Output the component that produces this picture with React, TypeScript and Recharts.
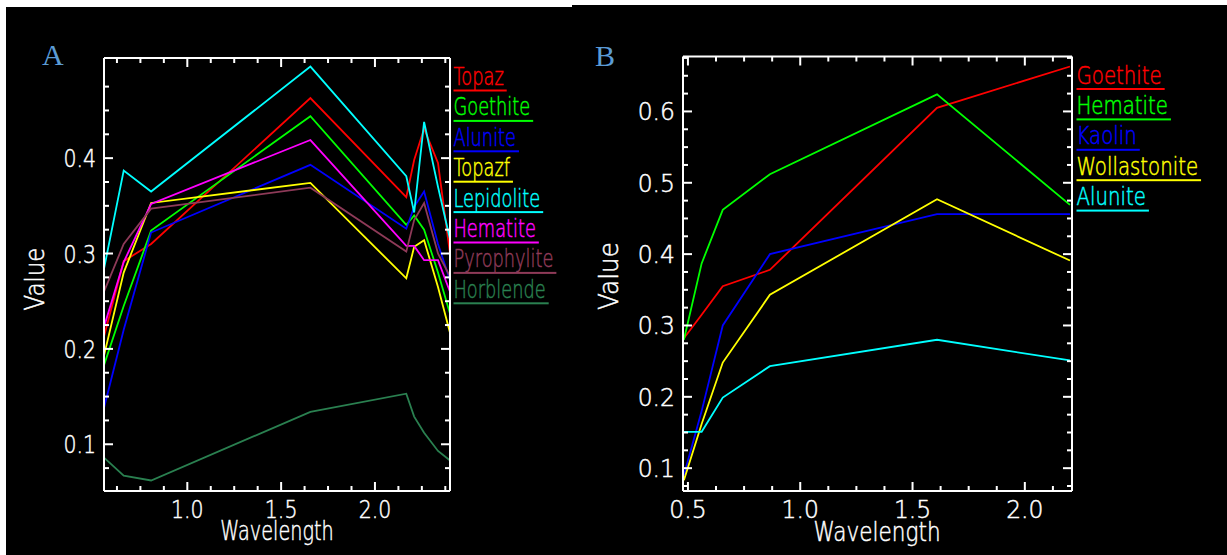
import React from "react";
import { Line, LineChart, XAxis, YAxis } from "recharts";

// Panel A: ASTER band centres (µm)
const wavelengthA = [0.556, 0.661, 0.807, 1.656, 2.167, 2.209, 2.262, 2.336, 2.4];
const topaz = [0.213, 0.292, 0.31, 0.463, 0.359, 0.398, 0.431, 0.395, 0.3];
const goethiteA = [0.183, 0.245, 0.324, 0.444, 0.33, 0.34, 0.325, 0.28, 0.237];
const aluniteA = [0.138, 0.22, 0.322, 0.393, 0.326, 0.349, 0.365, 0.31, 0.272];
const topazf = [0.193, 0.28, 0.353, 0.374, 0.274, 0.307, 0.314, 0.265, 0.217];
const lepidolite = [0.284, 0.387, 0.365, 0.496, 0.381, 0.343, 0.438, 0.37, 0.315];
const hematiteA = [0.223, 0.291, 0.352, 0.419, 0.308, 0.308, 0.293, 0.293, 0.26];
const pyrophylite = [0.26, 0.31, 0.347, 0.369, 0.302, 0.335, 0.353, 0.3, 0.276];
const horblende = [0.086, 0.067, 0.062, 0.134, 0.153, 0.129, 0.112, 0.093, 0.083];

// Panel B: OLI band centres (µm)
const wavelengthB = [0.482, 0.561, 0.655, 0.865, 1.609, 2.201];
const goethiteB = [0.282, 0.315, 0.355, 0.378, 0.605, 0.663];
const hematiteB = [0.28, 0.387, 0.462, 0.512, 0.624, 0.469];
const kaolin = [0.09, 0.18, 0.3, 0.4, 0.456, 0.456];
const wollastonite = [0.083, 0.162, 0.248, 0.343, 0.477, 0.391];
const aluniteB = [0.151, 0.151, 0.199, 0.243, 0.28, 0.251];

// tick positions (major ones get labels)
const xTicksA = [0.625, 0.75, 0.875, 1.0, 1.125, 1.25, 1.375, 1.5, 1.625, 1.75, 1.875, 2.0, 2.125, 2.25, 2.375];
const yTicksA = [
  0.075, 0.1, 0.125, 0.15, 0.175, 0.2, 0.225, 0.25, 0.275, 0.3, 0.325, 0.35, 0.375, 0.4, 0.425, 0.45, 0.475,
];
const xTicksB = [0.5, 0.625, 0.75, 0.875, 1.0, 1.125, 1.25, 1.375, 1.5, 1.625, 1.75, 1.875, 2.0, 2.125];
const yTicksB = [
  0.075, 0.1, 0.125, 0.15, 0.175, 0.2, 0.225, 0.25, 0.275, 0.3, 0.325, 0.35, 0.375, 0.4, 0.425, 0.45, 0.475, 0.5,
  0.525, 0.55, 0.575, 0.6, 0.625, 0.65, 0.675,
];

const seriesA = [
  { key: "Topaz", values: topaz, color: "#ff0000" },
  { key: "Goethite", values: goethiteA, color: "#00ff00" },
  { key: "Alunite", values: aluniteA, color: "#0000ff" },
  { key: "Topazf", values: topazf, color: "#ffff00" },
  { key: "Lepidolite", values: lepidolite, color: "#00ffff" },
  { key: "Hematite", values: hematiteA, color: "#ff00ff" },
  { key: "Pyrophylite", values: pyrophylite, color: "#8e3a58" },
  { key: "Horblende", values: horblende, color: "#2a8050" },
];

const seriesB = [
  { key: "Goethite", values: goethiteB, color: "#ff0000" },
  { key: "Hematite", values: hematiteB, color: "#00ff00" },
  { key: "Kaolin", values: kaolin, color: "#0000ff" },
  { key: "Wollastonite", values: wollastonite, color: "#ffff00" },
  { key: "Alunite", values: aluniteB, color: "#00ffff" },
];

const xDomainA = [0.556, 2.4];
const yDomainA = [0.051, 0.505];
const xDomainB = [0.478, 2.21];
const yDomainB = [0.068, 0.677];

const FONT = '"DejaVu Sans", sans-serif';
const FS = 24.7;
const WEIGHT = 300;

const ctx = typeof document !== "undefined" ? document.createElement("canvas").getContext("2d") : null;
function textWidth(s: string) {
  if (!ctx) return s.length * FS * 0.6;
  ctx.font = `${WEIGHT} ${FS}px "DejaVu Sans"`;
  return ctx.measureText(s).width;
}

function HText({ x, y, sx, anchor = "start", rotate = 0, color = "#fff", size = FS, children }: any) {
  return (
    <text
      transform={`translate(${x},${y}) rotate(${rotate}) scale(${sx},1)`}
      fontFamily={FONT}
      fontSize={size}
      fontWeight={WEIGHT}
      fill={color}
      stroke={color}
      strokeWidth={0.5}
      textAnchor={anchor}
    >
      {children}
    </text>
  );
}

const isMult = (v: number, m: number) => Math.abs(v / m - Math.round(v / m)) < 1e-6;

function makeTick(side: "bottom" | "top" | "left" | "right", major: number, digitSx: number, labelled: boolean) {
  return (p: any) => {
    const { x, y, payload } = p;
    const v = Number(payload.value);
    const big = isMult(v, major);
    const len = big ? 9 : 5;
    let x2 = x;
    let y2 = y;
    if (side === "bottom") y2 = y - len;
    else if (side === "top") y2 = y + len;
    else if (side === "left") x2 = x + len;
    else x2 = x - len;
    let tx = 0;
    let ty = 0;
    let anchor = "middle";
    if (side === "bottom") {
      tx = x;
      ty = y + 27;
    } else {
      tx = x - 8;
      ty = y + 9;
      anchor = "end";
    }
    const showLabel = labelled && big && (side === "bottom" || side === "left");
    return (
      <g>
        <line x1={x} y1={y} x2={x2} y2={y2} stroke="#fff" strokeWidth={2} />
        {showLabel ? (
          <text
            transform={`translate(${tx},${ty}) scale(${digitSx},1)`}
            fontFamily={FONT}
            fontSize={FS}
            fontWeight={WEIGHT}
            fill="#fff"
            stroke="#fff"
            strokeWidth={0.5}
            textAnchor={anchor}
          >
            {v.toFixed(1)}
          </text>
        ) : null}
      </g>
    );
  };
}

function Panel({ series, xs, xDomain, yDomain, xTicks, yTicks, width, margin, digitSx }: any) {
  const rows = xs.map((w: number, i: number) => {
    const row: Record<string, number> = { w };
    series.forEach((s: any) => (row[s.key] = s.values[i]));
    return row;
  });
  const axisLine = { stroke: "#fff", strokeWidth: 2 };
  const common = {
    tickSize: 0,
    tickMargin: 0,
    tickLine: false,
    interval: 0 as const,
    allowDataOverflow: true,
    type: "number" as const,
    axisLine,
  };
  // axes are 1px thick; margins are trimmed by 1 so the plot box stays put
  const m = { top: margin.top - 1, right: margin.right - 1, bottom: margin.bottom - 1, left: margin.left - 1 };
  return (
    <LineChart width={width} height={555} data={rows} margin={m}>
      <XAxis xAxisId="b" dataKey="w" domain={xDomain} ticks={xTicks} height={1} tick={makeTick("bottom", 0.5, digitSx, true)} {...common} />
      <XAxis xAxisId="t" orientation="top" dataKey="w" domain={xDomain} ticks={xTicks} height={1} tick={makeTick("top", 0.5, digitSx, false)} {...common} />
      <YAxis yAxisId="l" domain={yDomain} ticks={yTicks} width={1} tick={makeTick("left", 0.1, digitSx, true)} {...common} />
      <YAxis yAxisId="r" orientation="right" domain={yDomain} ticks={yTicks} width={1} tick={makeTick("right", 0.1, digitSx, false)} {...common} />
      {series.map((s: any) => (
        <Line
          key={s.key}
          xAxisId="b"
          yAxisId="l"
          type="linear"
          dataKey={s.key}
          stroke={s.color}
          strokeWidth={1.8}
          dot={false}
          isAnimationActive={false}
        />
      ))}
    </LineChart>
  );
}

function LegendBlock({ series, x, y0, sx }: any) {
  return (
    <g>
      {series.map((s: any, i: number) => {
        const base = y0 + i * 30.4;
        const w = textWidth(s.key) * sx + 3;
        return (
          <g key={s.key}>
            <HText x={x} y={base} sx={sx} color={s.color}>{s.key}</HText>
            <rect x={x} y={base + 4.5} width={w} height={2} fill={s.color} />
          </g>
        );
      })}
    </g>
  );
}

export default function App() {
  return (
    <div style={{ position: "absolute", left: 0, top: 0, width: 1227, height: 555, background: "#fff", overflow: "hidden" }}>
      <div style={{ position: "absolute", left: 6, top: 7, width: 566, height: 548, background: "#000" }} />
      <div style={{ position: "absolute", left: 572, top: 5, width: 655, height: 550, background: "#000" }} />
      <svg width={1227} height={555} style={{ position: "absolute", left: 0, top: 0, pointerEvents: "none" }}>
        <text x={42} y={65} fontFamily='"Liberation Serif", serif' fontSize={30} fill="#5b9bd5">A</text>
        <text x={595} y={66} fontFamily='"Liberation Serif", serif' fontSize={30} fill="#5b9bd5">B</text>
        <HText x={277} y={540} sx={0.74} size={26} anchor="middle">Wavelength</HText>
        <HText x={44} y={279} sx={0.88} size={26} anchor="middle" rotate={-90}>Value</HText>
        <HText x={877} y={541} sx={0.83} size={26} anchor="middle">Wavelength</HText>
        <HText x={618} y={276} sx={0.95} size={26} anchor="middle" rotate={-90}>Value</HText>
        <LegendBlock series={seriesA} x={453.5} y0={85} sx={0.72} />
        <LegendBlock series={seriesB} x={1076.5} y0={83.5} sx={0.8} />
      </svg>
      <div style={{ position: "absolute", left: 0, top: 0 }}>
        <Panel
          series={seriesA}
          xs={wavelengthA}
          xDomain={xDomainA}
          yDomain={yDomainA}
          xTicks={xTicksA}
          yTicks={yTicksA}
          width={600}
          margin={{ top: 58, right: 150, bottom: 64, left: 104 }}
          digitSx={0.83}
        />
      </div>
      <div style={{ position: "absolute", left: 572, top: 0 }}>
        <Panel
          series={seriesB}
          xs={wavelengthB}
          xDomain={xDomainB}
          yDomain={yDomainB}
          xTicks={xTicksB}
          yTicks={yTicksB}
          width={655}
          margin={{ top: 56.5, right: 155, bottom: 64, left: 111 }}
          digitSx={0.95}
        />
      </div>
    </div>
  );
}
